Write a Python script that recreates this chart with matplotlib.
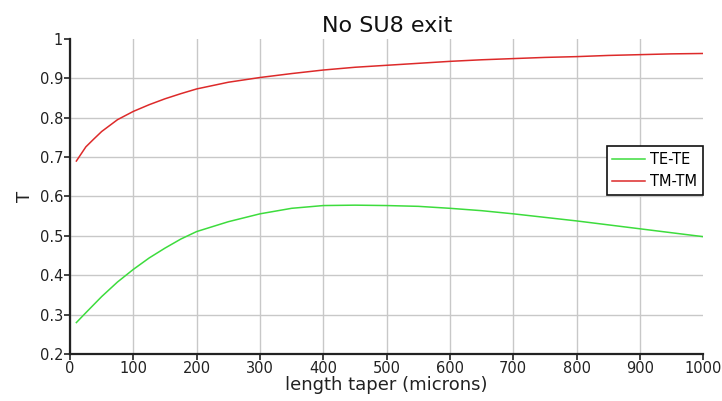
import matplotlib
matplotlib.use("Agg")
import matplotlib.pyplot as plt

# taper length sweep (microns) and transmission for each mode pair
length_te = [10, 25, 50, 75, 100, 125, 150, 175, 200, 250, 300, 350, 400, 450, 500,
             550, 600, 650, 700, 750, 800, 850, 900, 950, 1000]
te_te = [0.280, 0.305, 0.346, 0.383, 0.415, 0.444, 0.469, 0.492, 0.511, 0.536, 0.556,
         0.570, 0.577, 0.578, 0.577, 0.575, 0.570, 0.564, 0.556, 0.547, 0.538, 0.528,
         0.518, 0.508, 0.498]

length_tm = [10, 25, 37, 50, 75, 100, 125, 150, 175, 200, 250, 300, 350, 400, 450, 500,
             550, 600, 650, 700, 750, 800, 850, 900, 950, 1000]
tm_tm = [0.690, 0.726, 0.745, 0.765, 0.795, 0.816, 0.833, 0.848, 0.861, 0.873, 0.890,
         0.902, 0.912, 0.921, 0.928, 0.933, 0.938, 0.943, 0.947, 0.950, 0.953, 0.955,
         0.958, 0.960, 0.962, 0.963]

x_ticks = [0, 100, 200, 300, 400, 500, 600, 700, 800, 900, 1000]
y_ticks = [0.2, 0.3, 0.4, 0.5, 0.6, 0.7, 0.8, 0.9, 1]

fig = plt.figure(figsize=(7.22, 4.01), dpi=100)
ax = fig.add_axes([0.097, 0.117, 0.877, 0.786])

ax.plot(length_te, te_te, color="#3ddc3d", lw=1.1, label="TE-TE")
ax.plot(length_tm, tm_tm, color="#dd2a2a", lw=1.1, label="TM-TM")

ax.set_xlim(0, 1000)
ax.set_ylim(0.2, 1.0)
ax.set_xticks(x_ticks)
ax.set_yticks(y_ticks)
ax.set_yticklabels([f"{v:g}" for v in y_ticks])

ax.grid(True, color="#c8c8c8", lw=1)
ax.set_axisbelow(True)
# no grid line along the top and right edges
ax.get_ygridlines()[-1].set_visible(False)
ax.get_xgridlines()[-1].set_visible(False)

for side in ("top", "right"):
    ax.spines[side].set_visible(False)
for side in ("left", "bottom"):
    ax.spines[side].set_linewidth(1.6)
    ax.spines[side].set_color("#222222")

ax.tick_params(direction="out", length=4, width=1.2, labelsize=10.5,
               colors="#222222", pad=1)

ax.set_xlabel("length taper (microns)", fontsize=13, color="#222222", labelpad=0)
ax.set_ylabel("T", fontsize=13, color="#222222", labelpad=4)
ax.set_title("No SU8 exit", fontsize=16, color="#111111", pad=5)

leg = ax.legend(loc="upper right", bbox_to_anchor=(1.0, 0.66), fontsize=10.5,
                fancybox=False, framealpha=1, edgecolor="#111111",
                handlelength=2.2, borderpad=0.4, labelspacing=0.5,
                handletextpad=0.4, borderaxespad=0)
leg.get_frame().set_linewidth(1.2)

fig.savefig("out.png", dpi=100)
